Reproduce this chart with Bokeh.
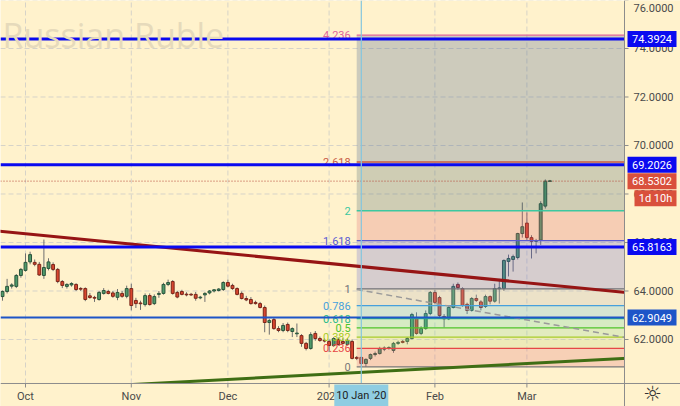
import numpy as np
import pandas as pd
from bokeh.plotting import figure
from bokeh.models import Range1d, Label, ColumnDataSource
from bokeh.core.properties import value
from bokeh.embed import file_html
from bokeh.resources import INLINE

# ---------------- data (USD/RUB daily) ----------------
dates = pd.bdate_range("2019-09-24", "2020-03-09")

opens = [63.77, 63.98, 64.20, 64.19, 64.64, 64.85, 65.20, 65.18, 65.10, 64.64,
         64.93, 65.09, 64.89, 64.39, 64.19, 64.25, 64.27, 64.10, 64.10, 63.80,
         63.73, 63.65, 63.90, 63.98, 63.92, 63.74, 63.90, 63.78, 64.10, 63.61,
         63.50, 63.44, 63.81, 63.48, 63.86, 63.90, 64.27, 64.39, 63.94, 63.98,
         63.86, 63.86, 63.86, 63.72, 63.84, 63.92, 64.00, 64.02, 64.06, 64.35,
         64.23, 64.10, 63.90, 63.69, 63.65, 63.53, 63.48, 63.32, 62.70, 62.82,
         62.45, 62.37, 62.62, 62.33, 62.25, 62.16, 61.84, 61.63, 62.25, 62.04,
         61.96, 61.92, 61.75, 62.00, 61.92, 61.79, 61.92, 61.26, 61.26, 61.01,
         61.22, 61.38, 61.42, 61.60, 61.65, 61.55, 61.84, 61.92, 61.92, 62.04,
         62.87, 62.25, 62.45, 63.07, 63.94, 63.73, 62.95, 62.85, 63.32, 64.27,
         64.10, 63.45, 63.20, 63.69, 63.55, 63.36, 63.77, 63.58, 64.10, 64.10,
         65.22, 65.30, 65.38, 66.37, 66.80, 66.20, 66.05, 66.10, 67.50, 68.53]
highs = [64.02, 64.50, 64.32, 64.70, 64.95, 65.55, 65.62, 65.30, 65.20, 66.12,
         65.35, 65.18, 64.95, 64.45, 64.32, 64.36, 64.32, 64.16, 64.15, 63.92,
         63.80, 64.00, 64.12, 64.05, 64.00, 64.08, 64.00, 64.22, 64.30, 63.72,
         63.60, 63.90, 63.90, 63.86, 64.00, 64.34, 64.47, 64.45, 64.00, 64.05,
         63.95, 63.92, 63.96, 63.80, 63.95, 64.04, 64.08, 64.12, 64.40, 64.47,
         64.30, 64.15, 63.98, 63.80, 63.75, 63.60, 63.55, 63.40, 62.85, 62.92,
         62.55, 62.68, 62.70, 62.50, 62.66, 62.22, 61.90, 62.30, 62.35, 62.12,
         62.05, 62.00, 62.10, 62.08, 62.05, 62.05, 62.00, 61.32, 61.30, 61.22,
         61.42, 61.50, 61.70, 61.72, 61.72, 61.90, 61.95, 61.98, 62.10, 63.10,
         63.12, 62.55, 63.20, 64.00, 64.05, 63.80, 63.05, 63.40, 64.30, 64.35,
         64.15, 63.52, 63.75, 63.85, 63.62, 63.85, 63.82, 64.30, 64.50, 65.30,
         65.50, 65.50, 66.40, 67.65, 67.24, 66.30, 66.15, 67.70, 68.60, 68.58]
lows = [63.60, 63.90, 64.10, 64.12, 64.55, 64.80, 65.10, 65.02, 64.62, 64.50,
        64.85, 64.82, 64.32, 64.12, 64.10, 64.18, 64.00, 64.00, 63.58, 63.68,
        63.55, 63.60, 63.85, 63.86, 63.72, 63.62, 63.72, 63.70, 63.20, 63.30,
        63.22, 63.36, 63.40, 63.42, 63.72, 63.85, 64.20, 63.85, 63.70, 63.82,
        63.78, 63.80, 63.60, 63.66, 63.55, 63.86, 63.94, 63.98, 64.00, 64.15,
        64.05, 63.82, 63.65, 63.58, 63.44, 63.44, 63.28, 62.30, 62.20, 62.40,
        62.30, 62.30, 62.30, 62.10, 62.10, 61.70, 61.55, 61.58, 61.95, 61.90,
        61.88, 61.48, 61.70, 61.75, 61.80, 61.75, 61.18, 61.15, 60.92, 60.87,
        61.15, 61.30, 61.38, 61.52, 61.58, 61.45, 61.78, 61.84, 61.80, 62.00,
        62.20, 62.18, 62.40, 63.00, 63.45, 62.90, 62.50, 62.80, 63.28, 64.05,
        63.35, 63.05, 63.15, 63.55, 63.20, 63.30, 63.45, 63.52, 63.48, 64.00,
        64.60, 64.80, 65.30, 66.20, 66.10, 65.34, 65.55, 65.90, 67.40, 68.50]
closes = [63.98, 64.19, 64.25, 64.64, 64.89, 65.18, 65.50, 65.10, 64.66, 64.97,
          65.20, 64.89, 64.39, 64.23, 64.27, 64.31, 64.06, 64.08, 63.65, 63.73,
          63.71, 63.94, 64.02, 63.90, 63.78, 63.94, 63.78, 64.10, 63.40, 63.48,
          63.48, 63.81, 63.44, 63.77, 63.90, 64.27, 64.35, 63.90, 63.75, 63.86,
          63.85, 63.84, 63.70, 63.74, 63.90, 64.00, 64.05, 64.08, 64.35, 64.20,
          64.10, 63.86, 63.69, 63.63, 63.48, 63.48, 63.32, 62.70, 62.78, 62.45,
          62.37, 62.58, 62.37, 62.45, 62.25, 61.84, 61.63, 62.20, 62.04, 61.96,
          61.94, 61.75, 62.04, 61.79, 61.84, 61.96, 61.22, 61.22, 61.01, 61.18,
          61.38, 61.42, 61.63, 61.65, 61.66, 61.84, 61.88, 61.88, 62.04, 63.03,
          62.25, 62.45, 63.07, 63.94, 63.53, 62.99, 62.85, 63.32, 64.19, 64.14,
          63.40, 63.20, 63.69, 63.61, 63.32, 63.77, 63.58, 64.10, 64.12, 65.26,
          65.34, 65.42, 66.37, 66.65, 66.20, 66.05, 66.08, 67.60, 68.53, 68.53]

month_starts = ["2019-10-01", "2019-11-01", "2019-12-02", "2020-01-01", "2020-02-03", "2020-03-02"]
month_labels = ["Oct", "Nov", "Dec", "2020", "Feb", "Mar"]
price_ticks = [62, 64, 66, 68, 70, 72, 74, 76]
price_tick_labels = ["62.0000", "64.0000", "66.0000", "68.0000", "70.0000", "72.0000", "74.0000", "76.0000"]

fib_ratios = ["0", "0.236", "0.382", "0.5", "0.618", "0.786", "1", "1.618", "2", "2.618", "4.236"]
fib_prices = [60.87, 61.63, 62.10, 62.48, 62.86, 63.40, 64.09, 66.08, 67.31, 69.32, 74.55]
fib_start = "2020-01-09"
crosshair_date = "2020-01-10"
crosshair_label = "10 Jan '20"

level_prices = [74.3924, 69.2026, 65.8163]
level_62 = 62.9049
last_price = 68.5302
countdown = "1d 10h"

tag_values = [74.3924, 69.2026, 68.5302, 65.8163, 62.9049]
tag_texts = ["74.3924", "69.2026", "68.5302", "65.8163", "62.9049"]

# trend lines (bar offset, price)
resist_bar = [0, 150]
resist_val = [66.47, 63.69]
support_bar = [20, 150]
support_val = [60.05, 61.36]
fibtrend_bar = [78, 137]
fibtrend_val = [64.06, 62.06]

# ---------------- layout constants (pixels -> data) ----------------
PXB = 4.6      # pixels per bar
PXP = 24.25    # pixels per price unit
X0, X1 = 0.565, 148.39        # canvas left / right in bars
Y0, Y1 = 59.237, 75.979       # canvas bottom / top in price
AX_X, AX_Y = 136.217, 60.186  # price axis / time axis position
def dx(px): return px / PXB
def dy(px): return px / PXP

BG_HEX = "#FFF2CC"
BG = (255, 242, 204)
ALPHA = 0.25

def overlay(hexcol):
    t = [int(hexcol[i:i + 2], 16) for i in (1, 3, 5)]
    c = [min(255, max(0, round((t[k] - (1 - ALPHA) * BG[k]) / ALPHA))) for k in range(3)]
    return "#%02x%02x%02x" % tuple(c)

band_targets = ["#F7D0B6", "#EEEAB8", "#E2EBBE", "#D7EBC3", "#D5E4D2",
                "#ECE2C8", "#D6CDCE", "#F6CDB4", "#CFCDB4", "#CDCBBC"]
level_colors = ["#787878", "#E64646", "#A8CC2A", "#4EC42A", "#26BA8A", "#46A0DC",
                "#707078", "#5A5AD2", "#3CC8A0", "#C85A46", "#E0649A"]
tag_colors = ["#0A0AF0", "#0A0AF0", "#D9503C", "#0A0AF0", "#1E55C8"]

def bar(d):
    return int(dates.get_loc(pd.Timestamp(d))) + 1

x = np.arange(len(dates)) + 1
o = np.array(opens); c = np.array(closes)
top = np.maximum(o, c); bot = np.minimum(o, c)
small = (top - bot) < 0.03
mid = (top + bot) / 2
top = np.where(small, mid + 0.015, top)
bot = np.where(small, mid - 0.015, bot)
up = c >= o
src = ColumnDataSource(dict(
    x=x, h=highs, l=lows, top=top, bot=bot,
    fill=np.where(up, "#4F9A6A", "#D8462F"),
    line=np.where(up, "#2A543C", "#7A2619"),
))

p = figure(width=680, height=406, output_backend="svg", toolbar_location=None,
           x_range=Range1d(X0, X1), y_range=Range1d(Y0, Y1),
           x_axis_location=None, y_axis_location=None, min_border=0)
p.grid.visible = False
p.background_fill_color = BG_HEX
p.border_fill_color = BG_HEX
p.outline_line_color = None

month_idx = [bar(d) for d in month_starts]
FONT = value("Roboto")

# grid
p.segment(x0=month_idx, x1=month_idx, y0=[AX_Y] * 6, y1=[Y1] * 6,
          line_color="#D6D3C8", line_width=1, line_dash="5 3")
p.segment(x0=[X0] * len(price_ticks), x1=[AX_X] * len(price_ticks), y0=price_ticks, y1=price_ticks,
          line_color="#D6D3C8", line_width=1, line_dash="5 3")

# candles
p.segment(x0="x", y0="l", x1="x", y1="h", line_color="#6E6E6E", line_width=1, source=src)
p.vbar(x="x", width=0.62, top="top", bottom="bot", fill_color="fill",
       line_color="line", line_width=1, source=src)

# fib fills and levels
fs = bar(fib_start)
p.quad(left=[fs] * 10, right=[AX_X] * 10, bottom=fib_prices[:-1], top=fib_prices[1:],
       fill_color=[overlay(t) for t in band_targets], fill_alpha=ALPHA, line_color=None)
p.segment(x0=[fs] * 11, x1=[AX_X] * 11, y0=fib_prices, y1=fib_prices,
          line_color=level_colors, line_width=1.3)
p.text(x=[fs - dx(6)] * 11, y=fib_prices, text=fib_ratios, text_align="right",
       text_baseline="middle", text_color=level_colors, text_font=FONT,
       text_font_size="11px")

# trend lines
p.line(fibtrend_bar, fibtrend_val, line_color="#9A9A9A", line_width=1.5, line_dash="6 4")
p.line(resist_bar, resist_val, line_color="#961414", line_width=3)
p.line(support_bar, support_val, line_color="#3F6E14", line_width=3)

# horizontal levels, last price, crosshair
p.segment(x0=[X0] * 3, x1=[AX_X] * 3, y0=level_prices, y1=level_prices,
          line_color="#0A0AF0", line_width=3)
p.segment(x0=[X0], x1=[AX_X], y0=[level_62], y1=[level_62], line_color="#1E55C8", line_width=2)
p.segment(x0=[X0], x1=[AX_X], y0=[last_price], y1=[last_price],
          line_color="#B5463A", line_width=1, line_dash="1 2")
ch = bar(crosshair_date)
p.segment(x0=[ch], x1=[ch], y0=[AX_Y], y1=[Y1], line_color="#84C6DE", line_width=1.2)

# masks over the axis areas
p.quad(left=[AX_X], right=[X1 + 1], bottom=[Y0 - 1], top=[Y1 + 1], fill_color=BG_HEX, line_color=None)
p.quad(left=[X0 - 1], right=[X1 + 1], bottom=[Y0 - 1], top=[AX_Y], fill_color=BG_HEX, line_color=None)

# axes
p.segment(x0=[AX_X], x1=[AX_X], y0=[Y0], y1=[Y1], line_color="#8C8C8C", line_width=1)
p.segment(x0=[X0], x1=[X1], y0=[AX_Y], y1=[AX_Y], line_color="#8C8C8C", line_width=1)
p.segment(x0=[AX_X] * len(price_ticks), x1=[AX_X + dx(4)] * len(price_ticks),
          y0=price_ticks, y1=price_ticks, line_color="#8C8C8C", line_width=1)
p.segment(x0=month_idx, x1=month_idx, y0=[AX_Y] * 6, y1=[AX_Y - dy(4)] * 6,
          line_color="#8C8C8C", line_width=1)
tick_label_y = [min(t, Y1 - dy(7)) for t in price_ticks]
p.text(x=[AX_X + dx(9)] * len(price_ticks), y=tick_label_y, text=price_tick_labels,
       text_align="left", text_baseline="middle", text_color="#4A4A4A",
       text_font=FONT, text_font_size="11px")
p.text(x=month_idx, y=[AX_Y - dy(13)] * 6, text=month_labels, text_align="center",
       text_baseline="middle", text_color="#4A4A4A", text_font=FONT, text_font_size="11px")

# price tags
n = len(tag_values)
p.quad(left=[AX_X + dx(3)] * n, right=[AX_X + dx(52)] * n,
       bottom=[v - dy(8) for v in tag_values], top=[v + dy(8) for v in tag_values],
       fill_color=tag_colors, line_color=None)
p.text(x=[AX_X + dx(27.5)] * n, y=tag_values, text=tag_texts, text_align="center",
       text_baseline="middle", text_color="white", text_font=FONT, text_font_size="11px")
cd_y = last_price - dy(17)
p.quad(left=[AX_X + dx(10)], right=[AX_X + dx(52)], bottom=[cd_y - dy(8)], top=[cd_y + dy(8)],
       fill_color="#D9503C", line_color=None)
p.text(x=[AX_X + dx(31)], y=[cd_y], text=[countdown], text_align="center",
       text_baseline="middle", text_color="white", text_font=FONT, text_font_size="11px")

# crosshair date tag
p.quad(left=[ch - dx(27)], right=[ch + dx(27)], bottom=[Y0 - 1], top=[AX_Y - dy(1)],
       fill_color="#8FCDE2", line_color=None)
p.text(x=[ch], y=[AX_Y - dy(12)], text=[crosshair_label], text_align="center",
       text_baseline="middle", text_color="#1E1E1E", text_font=FONT, text_font_size="11px")

# settings icon
p.text(x=[AX_X + dx(28)], y=[AX_Y - dy(11)], text=["☼"], text_align="center",
       text_baseline="middle", text_color="#333333", text_font=value("DejaVu Sans"),
       text_font_size="21px")

# watermark
p.add_layout(Label(x=2, y=406 - 34, x_units="screen", y_units="screen", text="Russian Ruble",
                   text_align="left", text_baseline="alphabetic", text_font="Open Sans",
                   text_font_size="34px", text_color="#E6DABB"))

open("out.html", "w").write(file_html(p, INLINE))
